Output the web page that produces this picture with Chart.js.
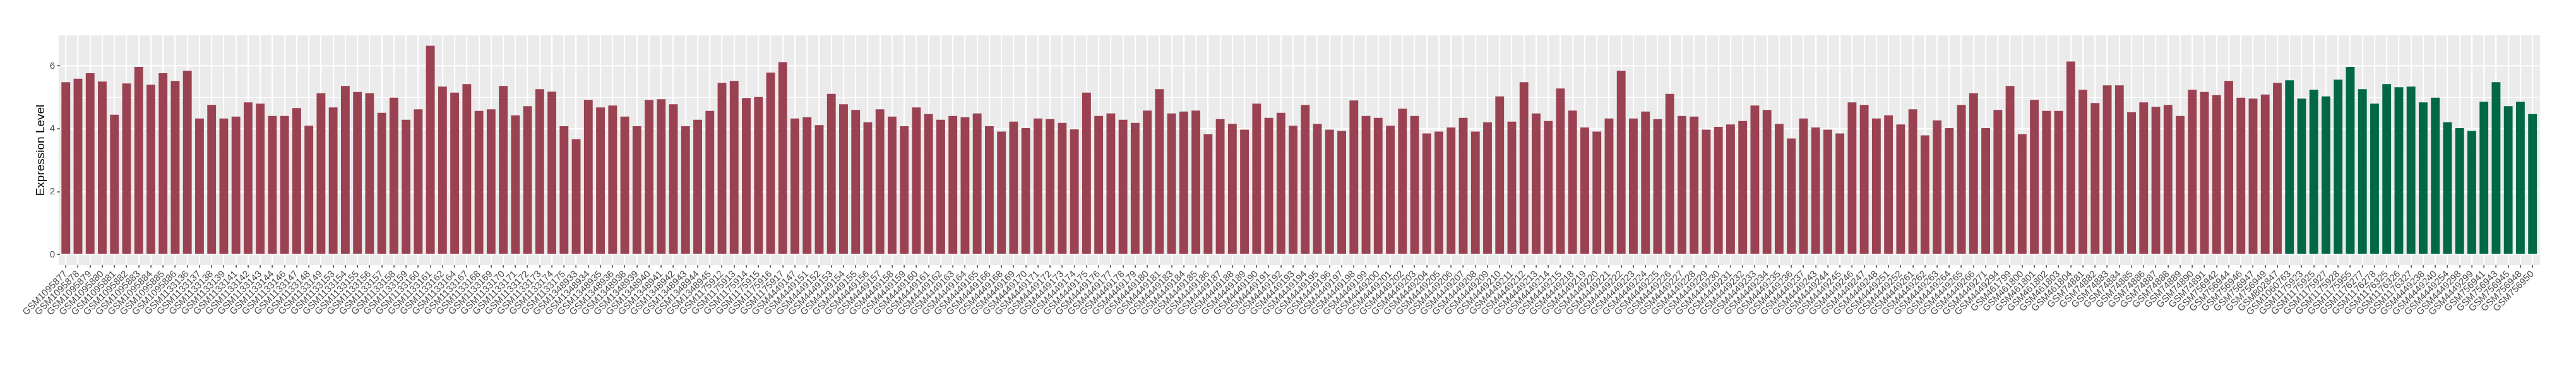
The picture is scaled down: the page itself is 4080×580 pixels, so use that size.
<!DOCTYPE html>
<html>
<head>
<meta charset="utf-8">
<script src="https://cdn.jsdelivr.net/npm/chart.js@4/dist/chart.umd.min.js"></script>
<style>
html,body{margin:0;padding:0;background:#ffffff;}
canvas{display:block;}
</style>
</head>
<body>
<canvas id="c" width="4080" height="580" style="width:4080px;height:580px"></canvas>
<script>
const redSamples = ["GSM1095877","GSM1095878","GSM1095879","GSM1095880","GSM1095881","GSM1095882","GSM1095883","GSM1095884","GSM1095885","GSM1095886",
"GSM1133136","GSM1133137","GSM1133138","GSM1133139","GSM1133141","GSM1133142","GSM1133143","GSM1133144","GSM1133146","GSM1133147",
"GSM1133148","GSM1133149","GSM1133153","GSM1133154","GSM1133155","GSM1133156","GSM1133157","GSM1133158","GSM1133159","GSM1133160",
"GSM1133161","GSM1133162","GSM1133164","GSM1133167","GSM1133168","GSM1133169","GSM1133170","GSM1133171","GSM1133172","GSM1133173",
"GSM1133174","GSM1133175","GSM1348933","GSM1348934","GSM1348935","GSM1348936","GSM1348938","GSM1348939","GSM1348940","GSM1348941",
"GSM1348942","GSM1348943","GSM1348944","GSM1348945","GSM1175912","GSM1175913","GSM1175914","GSM1175915","GSM1175916","GSM1175917",
"GSM4449147","GSM4449151","GSM4449152","GSM4449153","GSM4449154","GSM4449155","GSM4449156","GSM4449157","GSM4449158","GSM4449159",
"GSM4449160","GSM4449161","GSM4449162","GSM4449163","GSM4449164","GSM4449165","GSM4449166","GSM4449168","GSM4449169","GSM4449170",
"GSM4449171","GSM4449172","GSM4449173","GSM4449174","GSM4449175","GSM4449176","GSM4449177","GSM4449178","GSM4449179","GSM4449180",
"GSM4449181","GSM4449183","GSM4449184","GSM4449185","GSM4449186","GSM4449187","GSM4449188","GSM4449189","GSM4449190","GSM4449191",
"GSM4449192","GSM4449193","GSM4449194","GSM4449195","GSM4449196","GSM4449197","GSM4449198","GSM4449199","GSM4449200","GSM4449201",
"GSM4449202","GSM4449203","GSM4449204","GSM4449205","GSM4449206","GSM4449207","GSM4449208","GSM4449209","GSM4449210","GSM4449211",
"GSM4449212","GSM4449213","GSM4449214","GSM4449215","GSM4449218","GSM4449219","GSM4449220","GSM4449221","GSM4449222","GSM4449223",
"GSM4449224","GSM4449225","GSM4449226","GSM4449227","GSM4449228","GSM4449229","GSM4449230","GSM4449231","GSM4449232","GSM4449233",
"GSM4449234","GSM4449235","GSM4449236","GSM4449237","GSM4449243","GSM4449244","GSM4449245","GSM4449246","GSM4449247","GSM4449248",
"GSM4449251","GSM4449252","GSM4449261","GSM4449262","GSM4449263","GSM4449264","GSM4449265","GSM4449266","GSM4449271","GSM4449294",
"GSM461799","GSM461800","GSM461801","GSM461802","GSM461803","GSM461804","GSM74881","GSM74882","GSM74883","GSM74884",
"GSM74885","GSM74886","GSM74887","GSM74888","GSM74889","GSM74890","GSM74891","GSM756942","GSM756944","GSM756946",
"GSM756947","GSM756949","GSM802847"];

const redValues = [5.48,5.59,5.77,5.50,4.45,5.44,5.97,5.40,5.77,5.52,
5.85,4.33,4.76,4.33,4.39,4.84,4.80,4.41,4.41,4.66,
4.10,5.13,4.68,5.36,5.17,5.13,4.51,4.99,4.29,4.62,
6.64,5.34,5.15,5.42,4.57,4.62,5.36,4.43,4.72,5.26,
5.18,4.08,3.67,4.92,4.68,4.74,4.39,4.08,4.92,4.94,
4.78,4.08,4.29,4.57,5.46,5.52,4.98,5.01,5.79,6.12,
4.33,4.37,4.12,5.11,4.78,4.60,4.21,4.62,4.39,4.08,
4.68,4.47,4.29,4.41,4.37,4.49,4.08,3.91,4.23,4.02,
4.33,4.31,4.19,3.98,5.15,4.41,4.49,4.29,4.19,4.58,
5.26,4.49,4.55,4.58,3.83,4.31,4.16,3.97,4.80,4.35,
4.51,4.10,4.76,4.16,3.97,3.93,4.90,4.41,4.35,4.10,
4.64,4.41,3.85,3.91,4.04,4.35,3.91,4.21,5.03,4.23,
5.48,4.49,4.25,5.28,4.58,4.04,3.91,4.33,5.85,4.33,
4.55,4.31,5.11,4.41,4.39,3.97,4.06,4.14,4.25,4.74,
4.60,4.16,3.69,4.33,4.04,3.97,3.85,4.84,4.76,4.33,
4.43,4.14,4.62,3.79,4.27,4.02,4.76,5.13,4.02,4.60,
5.36,3.83,4.92,4.57,4.57,6.14,5.24,4.82,5.38,5.38,
4.53,4.84,4.70,4.76,4.41,5.24,5.17,5.07,5.52,4.99,
4.96,5.09,5.46];

const greenSamples = ["GSM1060763","GSM1175923","GSM1175925","GSM1175927","GSM1175928","GSM1175955","GSM1176277","GSM1176278","GSM1176325","GSM1176326",
"GSM1176327","GSM4449238","GSM4449240","GSM4449254","GSM4449298","GSM4449299","GSM756941","GSM756943","GSM756945","GSM756948",
"GSM756950"];

const greenValues = [5.54,4.96,5.24,5.03,5.56,5.97,5.26,4.80,5.42,5.32,
5.34,4.84,4.99,4.21,4.02,3.93,4.86,5.48,4.72,4.86,
4.47];

const yTicks = [0, 2, 4, 6];
const yAxisTitle = "Expression Level";

const categories = redSamples.concat(greenSamples);

// layout (pixels)
const panelL = 92.7, panelR = 4022.7, panelT = 56, panelB = 420;
const nCat = categories.length;
const step = (panelR - panelL) / (nCat + 0.2);
const chartL = panelL + 0.1 * step;
const chartR = panelR - 0.1 * step;

const dataMax = Math.max(...redValues, ...greenValues);
const yMin = -0.05 * dataMax;
const yMax = dataMax * 1.05;

const panelBg = {
  id: 'panelBg',
  beforeDraw(chart) {
    const ctx = chart.ctx;
    const a = chart.chartArea;
    ctx.save();
    ctx.fillStyle = '#EBEBEB';
    ctx.fillRect(panelL, a.top, panelR - panelL, a.bottom - a.top);
    ctx.restore();
  }
};

const FONT = "'Liberation Sans', Arial, sans-serif";

new Chart(document.getElementById('c'), {
  type: 'bar',
  data: {
    labels: categories,
    datasets: [
      {
        data: redSamples.map((s, i) => ({x: s, y: redValues[i]})),
        backgroundColor: '#9A4251',
        borderWidth: 0,
        barPercentage: 0.72,
        categoryPercentage: 1.0,
        grouped: false
      },
      {
        data: greenSamples.map((s, i) => ({x: s, y: greenValues[i]})),
        backgroundColor: '#006847',
        borderWidth: 0,
        barPercentage: 0.72,
        categoryPercentage: 1.0,
        grouped: false
      }
    ]
  },
  options: {
    responsive: false,
    animation: false,
    devicePixelRatio: 1,
    layout: { padding: { left: 0, top: panelT, right: 4080 - chartR, bottom: 0 } },
    plugins: { legend: { display: false }, tooltip: { enabled: false } },
    scales: {
      x: {
        type: 'category',
        offset: true,
        border: { display: false },
        grid: {
          offset: false,
          color: '#FFFFFF',
          lineWidth: 2.2,
          drawTicks: true,
          tickLength: 4.5,
          tickColor: '#333333',
          tickWidth: 1.3
        },
        ticks: {
          autoSkip: false,
          minRotation: 45,
          maxRotation: 45,
          padding: 1,
          color: '#4D4D4D',
          font: { family: FONT, size: 15 }
        },
        afterFit(scale) { scale.height = 580 - panelB; }
      },
      y: {
        type: 'linear',
        min: yMin,
        max: yMax,
        border: { display: false },
        grid: {
          color: '#FFFFFF',
          lineWidth: (c) => (c.tick && yTicks.includes(c.tick.value)) ? 2.2 : 1.1,
          drawTicks: true,
          tickLength: 4.5,
          tickColor: (c) => (c.tick && yTicks.includes(c.tick.value)) ? '#333333' : 'rgba(0,0,0,0)',
          tickWidth: 1.3
        },
        ticks: {
          stepSize: 1,
          includeBounds: false,
          padding: 3,
          color: '#4D4D4D',
          font: { family: FONT, size: 15 },
          callback: (v) => yTicks.includes(v) ? String(v) : ''
        },
        title: {
          display: true,
          text: yAxisTitle,
          color: '#000000',
          font: { family: FONT, size: 19 },
          padding: { top: 53, bottom: 0 }
        },
        afterFit(scale) { scale.width = chartL; }
      }
    }
  },
  plugins: [panelBg]
});
</script>
</body>
</html>
